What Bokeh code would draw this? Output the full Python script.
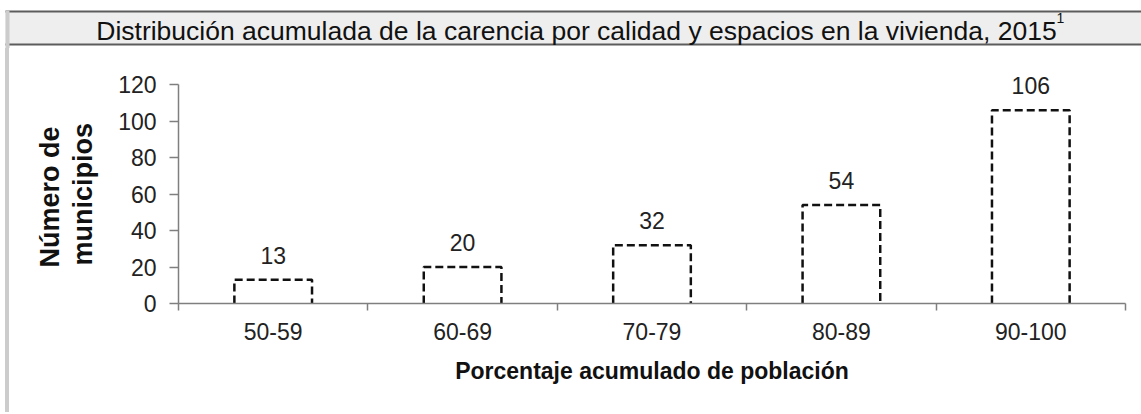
from bokeh.plotting import figure
from bokeh.models import Range1d, FixedTicker, ColumnDataSource, LabelSet, Label, Title
from bokeh.core.properties import value
from bokeh.embed import file_html
from bokeh.resources import INLINE

# ---- data ----
categories = ["50-59", "60-69", "70-79", "80-89", "90-100"]
municipios = [13, 20, 32, 54, 106]
y_ticks = [0, 20, 40, 60, 80, 100, 120]
title_text = "Distribución acumulada de la carencia por calidad y espacios en la vivienda, 2015"
title_sup = "1"
x_title = "Porcentaje acumulado de población"
y_title_1 = "Número de"
y_title_2 = "municipios"

FONT = "Liberation Sans"
W = 1141
TH = 48

# ---- title band ----
tp = figure(width=W, height=TH, x_range=Range1d(0, W), y_range=Range1d(TH, 0),
            output_backend="svg", toolbar_location=None,
            x_axis_type=None, y_axis_type=None, min_border=0)
tp.outline_line_color = None
tp.grid.visible = False
tp.quad(left=[5], right=[W + 10], top=[11], bottom=[44],
        fill_color="#eeeeee", line_color=None)
tp.segment(x0=[5, 5], x1=[W + 10, W + 10], y0=[11, 44], y1=[11, 44],
           line_color="#5c5c5c", line_width=2)
tp.quad(left=[5], right=[9], top=[10], bottom=[TH + 1],
        fill_color="#cccccc", line_color=None)
tp.add_layout(Label(x=576, y=30, text=title_text, text_align="center",
                    text_baseline="alphabetic", text_font=FONT,
                    text_font_size="26.5px", text_color="#111111"))
tp.add_layout(Label(x=1060, y=17, text=title_sup, text_align="center",
                    text_baseline="alphabetic", text_font=FONT,
                    text_font_size="14px", text_color="#111111"))

# ---- main chart ----
n = len(categories)
centers = [i + 0.5 for i in range(n)]
bw = 0.41
src = ColumnDataSource(dict(
    x=centers, top=municipios, lab=[str(v) for v in municipios],
    xs=[[c - bw / 2, c - bw / 2, c + bw / 2, c + bw / 2] for c in centers],
    ys=[[0, v, v, 0] for v in municipios],
))

p = figure(width=W, height=364, x_range=Range1d(0, n), y_range=Range1d(0, 130),
           output_backend="svg", toolbar_location=None,
           min_border_left=178, min_border_right=16,
           min_border_top=18, min_border_bottom=109,
           styles={"background": "linear-gradient(to right, #ffffff 5px, #cccccc 5px, "
                                 "#cccccc 9px, #ffffff 9px)"})
p.outline_line_color = None
p.grid.visible = False
p.border_fill_color = None
p.background_fill_color = "white"

p.multi_line(xs="xs", ys="ys", source=src, line_color="#111111",
             line_width=2.5, line_dash="8 4")
p.add_layout(LabelSet(x="x", y="top", text="lab", source=src, y_offset=16,
                      text_align="center", text_baseline="alphabetic",
                      text_font=value(FONT), text_font_size="23px",
                      text_color="#222222"))

xa = p.xaxis[0]
xa.ticker = FixedTicker(ticks=centers, minor_ticks=list(range(n + 1)))
xa.major_label_overrides = {c: lab for c, lab in zip(centers, categories)}
xa.major_tick_line_color = None
xa.major_tick_out = 0
xa.major_tick_in = 0
xa.minor_tick_out = 7
xa.minor_tick_in = 0
xa.minor_tick_line_color = "#7f7f7f"
xa.minor_tick_line_width = 1.5
xa.axis_line_color = "#7f7f7f"
xa.axis_line_width = 1.5
xa.major_label_standoff = 12
xa.major_label_text_font = FONT
xa.major_label_text_font_size = "23px"
xa.major_label_text_color = "#222222"
xa.axis_label = x_title
xa.axis_label_text_font = FONT
xa.axis_label_text_font_style = "bold"
xa.axis_label_text_font_size = "23px"
xa.axis_label_text_color = "#111111"
xa.axis_label_standoff = 15

ya = p.yaxis[0]
ya.ticker = FixedTicker(ticks=y_ticks)
ya.bounds = (0, 120)
ya.minor_tick_line_color = None
ya.major_tick_out = 9
ya.major_tick_in = 0
ya.major_tick_line_color = "#7f7f7f"
ya.major_tick_line_width = 1.5
ya.axis_line_color = "#7f7f7f"
ya.axis_line_width = 1.5
ya.major_label_standoff = 13
ya.major_label_text_font = FONT
ya.major_label_text_font_size = "23px"
ya.major_label_text_color = "#222222"

for txt, so, off in ((y_title_2, 34, 38), (y_title_1, -32, 36)):
    t = Title(text=txt, align="left", vertical_align="middle", offset=off,
              standoff=so, text_font=FONT, text_font_style="bold",
              text_font_size="27px", text_color="#111111")
    p.add_layout(t, "left")

open("out.html", "w").write(file_html([tp, p], INLINE))
